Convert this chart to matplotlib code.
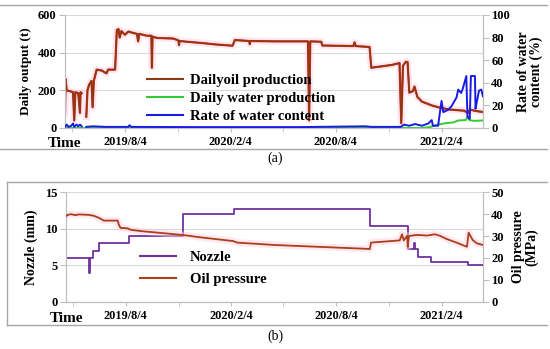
import numpy as np
import pandas as pd
import matplotlib
matplotlib.use("Agg")
import matplotlib.pyplot as plt
import matplotlib.dates as mdates
from matplotlib.lines import Line2D
from matplotlib.ticker import FixedLocator, FixedFormatter, MultipleLocator

# ---------------- data ----------------
oil_dates = ["2019-04-22", "2019-04-23", "2019-04-25", "2019-05-01", "2019-05-06", "2019-05-08",
             "2019-05-10", "2019-05-15", "2019-05-18", "2019-05-19", "2019-05-21", "2019-05-25",
             "2019-05-29", "2019-05-31", "2019-06-03", "2019-06-07", "2019-06-09", "2019-06-11",
             "2019-06-16", "2019-06-25", "2019-07-03", "2019-07-06", "2019-07-18", "2019-07-21",
             "2019-07-24", "2019-07-26", "2019-07-29", "2019-08-04", "2019-08-10", "2019-08-18",
             "2019-08-25", "2019-08-27", "2019-08-29", "2019-09-11", "2019-09-19", "2019-09-20",
             "2019-09-21", "2019-09-29", "2019-10-27", "2019-11-05", "2019-11-06", "2019-11-07",
             "2019-11-20", "2019-12-13", "2020-01-11", "2020-02-07", "2020-02-11", "2020-03-07",
             "2020-03-08", "2020-03-09", "2020-04-20", "2020-06-17", "2020-06-19", "2020-06-21",
             "2020-07-10", "2020-07-12", "2020-09-04", "2020-09-06", "2020-09-08", "2020-10-02",
             "2020-10-05", "2020-11-10", "2020-11-23", "2020-11-26", "2020-11-29", "2020-12-04",
             "2020-12-07", "2020-12-10", "2020-12-16", "2020-12-19", "2020-12-24", "2021-01-01",
             "2021-01-18", "2021-02-01", "2021-02-18", "2021-03-15", "2021-03-22", "2021-03-25",
             "2021-04-05", "2021-04-17"]
oil_values = [80, 260, 200, 195, 190, 40,
              190, 185, 80, 190, 185, np.nan,
              60, 200, 230, 250, 110, 250,
              310, 305, 290, 310, 310, 520,
              525, 480, 515, 495, 512, 505,
              500, 460, 500, 490, 490, 320,
              485, 478, 475, 465, 440, 462,
              458, 452, 443, 437, 467, 462,
              445, 462, 460, 460, 40, 460,
              458, 438, 435, 455, 435, 430,
              320, 335, 345, 25, 330, 352,
              350, 188, 195, 220, 165, 140,
              120, 108, 98, 92, 80, 98,
              90, 85]

water_dates = ["2019-04-22", "2021-01-01", "2021-01-15", "2021-01-25", "2021-02-10", "2021-02-25",
               "2021-03-05", "2021-03-18", "2021-03-21", "2021-03-24", "2021-04-01", "2021-04-17"]
water_values = [0, 0, 5, 15, 25, 30,
                40, 42, 60, 42, 38, 40]

rate_dates = ["2019-04-22", "2019-04-25", "2019-04-28", "2019-05-03", "2019-05-06", "2019-05-08",
              "2019-05-12", "2019-05-15", "2019-05-18", "2019-05-21", "2019-05-25", "2019-05-29",
              "2019-06-10", "2019-07-01", "2019-08-10", "2019-08-12", "2019-08-15", "2019-12-01",
              "2020-06-01", "2020-09-25", "2020-10-05", "2020-11-25", "2020-12-01", "2020-12-10",
              "2020-12-20", "2021-01-01", "2021-01-12", "2021-01-18", "2021-01-20", "2021-01-29",
              "2021-02-04", "2021-02-07", "2021-02-15", "2021-02-21", "2021-03-02", "2021-03-05",
              "2021-03-10", "2021-03-13", "2021-03-19", "2021-03-21", "2021-03-25", "2021-03-27",
              "2021-04-03", "2021-04-04", "2021-04-07", "2021-04-10", "2021-04-14", "2021-04-17"]
rate_values = [1, 3, 1, 2, 4, 1,
               3, 1.5, 3, 1.5, np.nan, 1,
               1.5, 1, 1, 2.5, 1, 0.8,
               0.8, 1.5, 1, 1, 3, 2,
               3.5, 2, 4, 7, 2, 2,
               24, 14, 16, 19, 27, 34,
               31, 35, 46, 10, 8, 46,
               46, 17, 25, 33, 34, 28]

nozzle_dates = ["2019-04-22", "2019-05-31", "2019-06-01", "2019-06-02", "2019-06-08", "2019-06-19",
                "2019-08-10", "2019-11-12", "2020-02-08", "2020-10-02", "2020-12-08", "2020-12-17",
                "2020-12-20", "2020-12-25", "2021-01-17", "2021-03-22", "2021-04-17"]
nozzle_values = [6, 6, 4, 6, 7, 8,
                 9, 12, 12.7, 10.3, 7.2, 8.1,
                 7.2, 6.1, 5.5, 5.1, 5.1]

pressure_dates = ["2019-04-22", "2019-04-25", "2019-05-01", "2019-05-08", "2019-05-15", "2019-06-01",
                  "2019-06-09", "2019-06-18", "2019-06-27", "2019-07-21", "2019-07-23", "2019-07-26",
                  "2019-08-07", "2019-08-13", "2019-09-04", "2019-10-04", "2019-11-13", "2019-12-12",
                  "2020-02-07", "2020-02-14", "2020-04-20", "2020-09-15", "2020-10-02", "2020-10-04",
                  "2020-11-23", "2020-11-27", "2020-11-30", "2020-12-06", "2020-12-07", "2020-12-09",
                  "2020-12-23", "2021-01-10", "2021-01-23", "2021-02-01", "2021-02-13", "2021-03-02",
                  "2021-03-20", "2021-03-23", "2021-03-30", "2021-04-06", "2021-04-17"]
pressure_values = [39.0, 39.6, 39.9, 39.5, 39.8, 39.6,
                   39.2, 38.3, 37.0, 37.0, 35.1, 33.7,
                   33.5, 32.8, 32.1, 31.4, 30.4, 29.4,
                   27.7, 27.0, 25.9, 24.3, 24.1, 27.0,
                   28.0, 30.8, 28.0, 30.1, 25.1, 30.0,
                   30.5, 30.2, 30.8, 30.1, 28.6, 27.0,
                   25.1, 31.5, 28.2, 26.7, 25.9]

tick_dates = ["2019-08-04", "2020-02-04", "2020-08-04", "2021-02-04"]
tick_labels = ["2019/8/4", "2020/2/4", "2020/8/4", "2021/2/4"]
minor_dates = ["2019-05-04", "2019-11-04", "2020-05-04", "2020-11-04"]

# ---------------- style ----------------
SERIF = ["Liberation Serif", "DejaVu Serif"]
plt.rcParams["font.family"] = SERIF
plt.rcParams["font.weight"] = "bold"

W, H = 550, 349
fig = plt.figure(figsize=(W / 100, H / 100), dpi=100)

def fx(px):
    return px / W

def fy(py):
    return 1 - py / H

xmin = mdates.date2num(pd.Timestamp("2019-04-22"))
xmax = mdates.date2num(pd.Timestamp("2021-04-17"))
GRID = "#d9d9d9"
SPINE = "#bfbfbf"

def to_num(dates):
    return mdates.date2num(pd.to_datetime(dates))

def style_axes(ax, ax2):
    ax.set_xlim(xmin, xmax)
    ax.xaxis.set_major_locator(FixedLocator(to_num(tick_dates)))
    ax.xaxis.set_major_formatter(FixedFormatter(tick_labels))
    ax.xaxis.set_minor_locator(FixedLocator(to_num(minor_dates)))
    ax.tick_params(axis="x", which="both", length=3, color=SPINE, labelsize=8.8, pad=3)
    ax.tick_params(axis="y", length=4, color=SPINE, labelsize=9, pad=2)
    ax2.tick_params(axis="y", length=4, color=SPINE, labelsize=9, pad=2)
    for a in (ax, ax2):
        a.spines["top"].set_visible(False)
        for s in ("left", "right", "bottom"):
            a.spines[s].set_color(SPINE)
            a.spines[s].set_linewidth(0.8)
    ax.grid(axis="y", color=GRID, linewidth=0.8)
    ax.set_axisbelow(True)
    for lab in ax.get_xticklabels() + ax.get_yticklabels() + ax2.get_yticklabels():
        lab.set_fontweight("bold")

# ---------------- top panel ----------------
ax = fig.add_axes([fx(65), fy(128), fx(483 - 65), (128 - 15) / H])
ax2 = ax.twinx()

od = to_num(oil_dates)
ax.plot(od, oil_values, color="#ffd0e4", lw=5, alpha=0.5, zorder=1)
ax.plot(od, oil_values, color="#d82a20", lw=1.6, zorder=2)
ax.plot(od, oil_values, color="#8b3a12", lw=1.1, zorder=3)
ax.plot(to_num(water_dates), water_values, color="#33cc33", lw=1.4, zorder=3)
ax2.plot(to_num(rate_dates), rate_values, color="#1a1ae6", lw=1.4, zorder=3)

ax.set_ylim(0, 600)
ax.yaxis.set_major_locator(MultipleLocator(200))
ax2.set_ylim(0, 100)
ax2.yaxis.set_major_locator(MultipleLocator(20))
style_axes(ax, ax2)
ax.set_ylabel("Daily output (t)", fontsize=9.5, fontweight="bold", labelpad=4)
ax2.set_ylabel("Rate of water\ncontent (%)", fontsize=10, fontweight="bold", labelpad=5,
               linespacing=0.95)

h_top = [Line2D([], [], color="#8b3a12", lw=1.5),
         Line2D([], [], color="#33cc33", lw=1.5),
         Line2D([], [], color="#1a1ae6", lw=1.5)]
fig.legend(h_top, ["Dailyoil production", "Daily water production", "Rate of water content"],
           loc="upper left", bbox_to_anchor=(fx(147), fy(74)), frameon=False,
           borderpad=0, borderaxespad=0, handlelength=2.5, handletextpad=0.45,
           labelspacing=0.33, prop={"family": SERIF, "size": 10.5})

# ---------------- bottom panel ----------------
bx = fig.add_axes([fx(66), fy(302), fx(483 - 66), (302 - 192) / H])
bx2 = bx.twinx()
bx2.plot(to_num(pressure_dates), pressure_values, color="#ffd0e4", lw=5, alpha=0.5, zorder=1)
bx2.plot(to_num(pressure_dates), pressure_values, color="#a8401a", lw=1.3, zorder=3)
bx.plot(to_num(nozzle_dates), nozzle_values, color="#7030a0", lw=1.3, drawstyle="steps-post", zorder=3)
bx.set_ylim(0, 15)
bx.yaxis.set_major_locator(MultipleLocator(5))
bx2.set_ylim(0, 50)
bx2.yaxis.set_major_locator(MultipleLocator(10))
style_axes(bx, bx2)
bx.set_ylabel("Nozzle (mm)", fontsize=10, fontweight="bold", labelpad=5)
bx2.set_ylabel("Oil pressure\n(MPa)", fontsize=10, fontweight="bold", labelpad=6, linespacing=0.95)

h_bot = [Line2D([], [], color="#7030a0", lw=1.5), Line2D([], [], color="#a8401a", lw=1.5)]
fig.legend(h_bot, ["Nozzle", "Oil pressure"],
           loc="upper left", bbox_to_anchor=(fx(140), fy(251)), frameon=False,
           borderpad=0, borderaxespad=0, handlelength=2.5, handletextpad=0.9,
           labelspacing=0.6, prop={"family": SERIF, "size": 10.5})

# ---------------- texts and frames ----------------
fig.text(fx(65), fy(143), "Time", ha="center", va="center", fontsize=11, fontweight="bold")
fig.text(fx(67), fy(318), "Time", ha="center", va="center", fontsize=11, fontweight="bold")
fig.text(fx(275), fy(158), "(a)", ha="center", va="center", fontsize=10, fontweight="normal")
fig.text(fx(275), fy(336), "(b)", ha="center", va="center", fontsize=10, fontweight="normal")

FR = "#a6a6a6"
for (x0, y0, x1, y1) in [(0, 5, 547, 5), (0, 149, 547, 149),
                         (7, 182, 547, 182), (7, 325, 547, 325), (7, 182, 7, 325)]:
    fig.add_artist(Line2D([fx(x0), fx(x1)], [fy(y0), fy(y1)], color=FR, lw=1.0,
                          transform=fig.transFigure))

fig.savefig("out.png", dpi=100)
